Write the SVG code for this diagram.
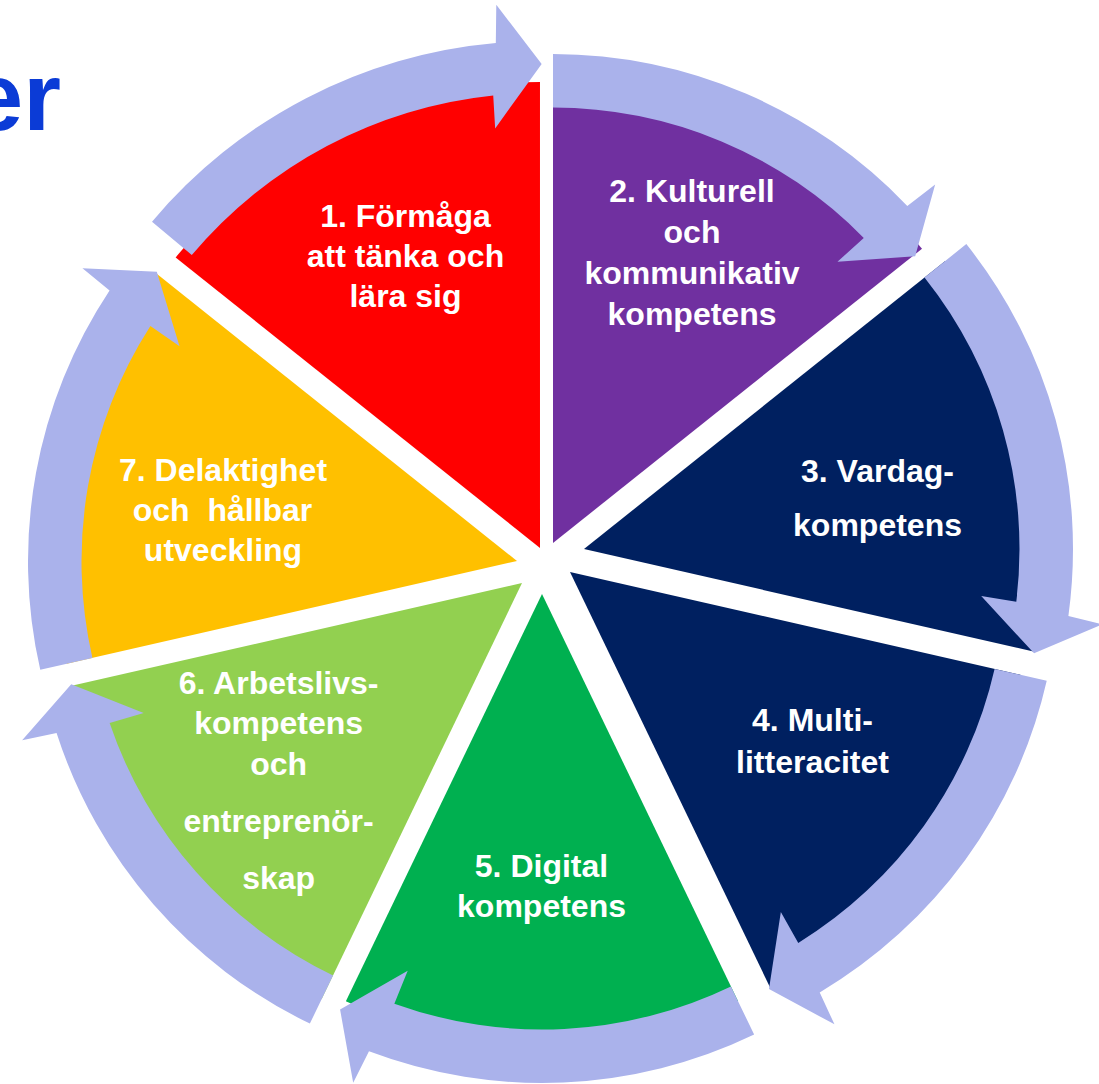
<svg xmlns="http://www.w3.org/2000/svg" width="1099" height="1084" viewBox="0 0 1099 1084">
<defs>
<path id="wedge" d="M0,0 L462,0 A462,462 0 0 1 288.06,361.19 Z"/>
<path id="arrow" d="M489,0 A489,489 0 0 1 337.03,354.30 L358.50,382.16 L286.80,362.20 L281.21,284.46 L305.09,310.78 A435.5,435.5 0 0 0 435.5,0 Z"/>
</defs>
<style>
.t{font-family:"Liberation Sans",Arial,sans-serif;font-weight:bold;font-size:32px;fill:#ffffff;text-anchor:middle}
.arr{fill:#AAB2EB}
</style>
<rect width="1099" height="1084" fill="#ffffff"/>
<text id="title" x="61" y="130" font-family="Liberation Sans, Arial, sans-serif" font-weight="bold" font-size="97" fill="#0B3BD6" text-anchor="end">er</text>

<g id="node1">
<path d="M0,0 L466,0 A466,466 0 0 1 290.55,364.32 Z" transform="translate(540,548) rotate(-141.43)" fill="#FF0000"/>
<text class="t"><tspan x="405.5" y="227">1. Förmåga</tspan><tspan x="405.5" y="267">att tänka och</tspan><tspan x="405.5" y="307">lära sig</tspan></text>
</g>
<g id="node2">
<path d="M0,0 L472,0 A472,472 0 0 1 294.29,369.01 Z" transform="translate(553,543) rotate(-90)" fill="#7030A0"/>
<text class="t"><tspan x="692" y="202">2. Kulturell</tspan><tspan x="692" y="243">och</tspan><tspan x="692" y="284">kommunikativ</tspan><tspan x="692" y="325">kompetens</tspan></text>
</g>
<g id="node3">
<use href="#wedge" transform="translate(584,549) rotate(-38.57)" fill="#002060"/>
<text class="t"><tspan x="877.5" y="482">3. Vardag-</tspan><tspan x="877.5" y="536">kompetens</tspan></text>
</g>
<g id="node4">
<use href="#wedge" transform="translate(570,572) rotate(12.86)" fill="#002060"/>
<text class="t"><tspan x="812.5" y="731">4. Multi-</tspan><tspan x="812.5" y="773">litteracitet</tspan></text>
</g>
<g id="node5">
<path d="M0,0 L452,0 A452,452 0 0 1 281.82,353.37 Z" transform="translate(542,594) rotate(64.29)" fill="#00B050"/>
<text class="t"><tspan x="541.5" y="877">5. Digital</tspan><tspan x="541.5" y="917">kompetens</tspan></text>
</g>
<g id="node6">
<use href="#wedge" transform="translate(522,583) rotate(115.71)" fill="#92D050"/>
<text class="t"><tspan x="278.6" y="694">6. Arbetslivs-</tspan><tspan x="278.6" y="734">kompetens</tspan><tspan x="278.6" y="775">och</tspan><tspan x="278.6" y="832">entreprenör-</tspan><tspan x="278.6" y="889">skap</tspan></text>
</g>
<g id="node7">
<use href="#wedge" transform="translate(517,561) rotate(167.14)" fill="#FFC000"/>
<text class="t" xml:space="preserve"><tspan x="223" y="481">7. Delaktighet</tspan><tspan x="222.5" y="521">och  hållbar</tspan><tspan x="223" y="561">utveckling</tspan></text>
</g>

<g id="connectors">
<path class="arr" d="M506.83,13.27 A507,507 0 0 1 349.44,367.34 L372.87,397.48 L300.45,379.45 L296.67,300.11 L318.75,324.69 A455,455 0 0 0 454.85,11.91 Z" transform="translate(540,548) rotate(-141.43)"/>
<use class="arr" href="#arrow" transform="translate(553,543) rotate(-90)"/>
<use class="arr" href="#arrow" transform="translate(584,549) rotate(-38.57)"/>
<use class="arr" href="#arrow" transform="translate(570,572) rotate(12.86)"/>
<use class="arr" href="#arrow" transform="translate(542,594) rotate(64.29)"/>
<use class="arr" href="#arrow" transform="translate(522,583) rotate(115.71)"/>
<use class="arr" href="#arrow" transform="translate(517,561) rotate(167.14)"/>
</g>
</svg>
